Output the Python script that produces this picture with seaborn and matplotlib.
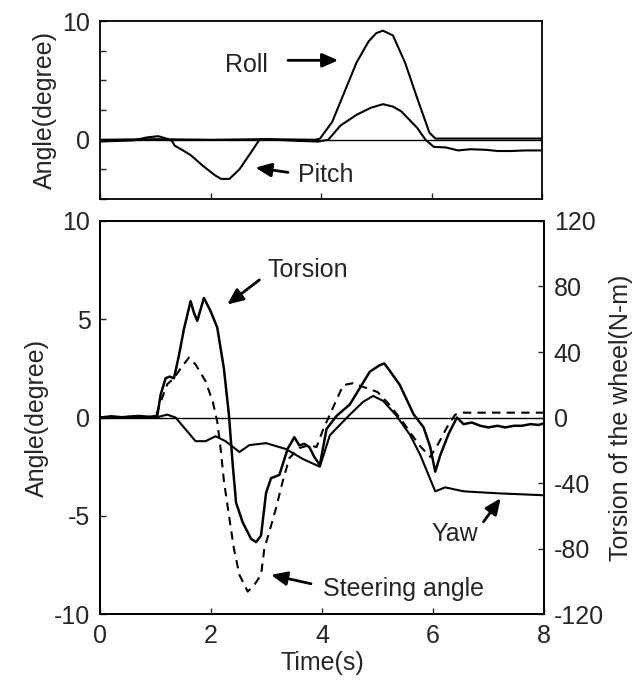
import numpy as np
import pandas as pd
import matplotlib
matplotlib.use("Agg")
import matplotlib.pyplot as plt
import seaborn as sns

# -----------------------------------------------------------------------------
# Data
# -----------------------------------------------------------------------------
# Top panel: roll and pitch angle (degree)
pitch_t = [0.0, 0.3, 0.6, 0.85, 1.05, 1.2, 1.3, 1.35, 1.5, 1.64, 1.86, 2.08, 2.19,
           2.34, 2.52, 2.74, 2.89, 3.2, 3.6, 3.95, 4.13, 4.35, 4.64, 4.9, 5.12, 5.3,
           5.45, 5.74, 5.89, 6.04, 6.26, 6.48, 6.7, 6.99, 7.2, 7.43, 7.7, 8.0]
pitch_v = [-0.15, -0.1, -0.05, 0.2, 0.3, 0.1, -0.1, -0.5, -0.9, -1.3, -2.2, -3.0, -3.3,
           -3.3, -2.5, -1.0, 0.05, 0.0, -0.1, -0.15, 0.0, 1.2, 2.1, 2.7, 3.0, 2.8,
           2.4, 1.0, 0.0, -0.6, -0.65, -0.9, -0.8, -0.85, -0.95, -0.95, -0.9, -0.9]

roll_t = [0.0, 1.0, 2.0, 3.0, 3.9, 3.98, 4.2, 4.42, 4.64, 4.86, 5.0, 5.12, 5.3,
          5.52, 5.74, 5.96, 6.07, 7.0, 8.0]
roll_v = [0.0, 0.05, 0.0, 0.05, 0.0, 0.1, 1.5, 4.0, 6.5, 8.3, 9.0, 9.2, 8.8,
          6.5, 3.5, 0.6, 0.1, 0.1, 0.1]

# Bottom panel: yaw and steering angle (degree), torsion of the wheel (N-m)
yaw_t = [0.0, 0.5, 1.0, 1.21, 1.36, 1.54, 1.72, 1.90, 2.08, 2.26, 2.51, 2.69, 2.99,
         3.35, 3.65, 3.96, 4.14, 4.5, 4.74, 4.92, 5.1, 5.34, 5.59, 5.77, 6.04, 6.22,
         6.55, 7.16, 8.0]
yaw_v = [0.0, 0.0, 0.0, 0.15, 0.0, -0.6, -1.2, -1.2, -0.95, -1.2, -1.75, -1.4, -1.3,
         -1.6, -2.1, -2.5, -0.9, 0.15, 0.8, 1.1, 0.85, 0.1, -0.9, -1.9, -3.75, -3.55,
         -3.75, -3.85, -3.95]

steer_t = [0.0, 0.5, 1.0, 1.09, 1.21, 1.33, 1.45, 1.6, 1.72, 1.9, 2.03, 2.11, 2.17,
           2.23, 2.32, 2.41, 2.51, 2.66, 2.78, 2.9, 2.96, 3.05, 3.17, 3.29, 3.41, 3.59,
           3.77, 3.9, 4.02, 4.14, 4.38, 4.56, 4.8, 5.0, 5.2, 5.45, 5.75, 5.95, 6.1,
           6.25, 6.4, 6.55, 8.0]
steer_v = [0.0, 0.0, 0.05, 0.8, 1.7, 2.0, 2.5, 3.05, 2.7, 1.85, 0.8, -0.2, -1.55,
           -3.2, -4.95, -6.65, -8.0, -8.85, -8.5, -8.0, -6.65, -5.8, -4.6, -3.25, -2.06, -1.55,
           -1.4, -1.5, -0.6, 0.15, 1.65, 1.75, 1.5, 1.3, 0.7, -0.2, -1.4, -2.0, -1.3,
           -0.5, 0.15, 0.25, 0.25]

torsion_t = [0.0, 0.2, 0.4, 0.51, 0.7, 0.9, 1.03, 1.09, 1.18, 1.25, 1.33, 1.42, 1.51,
             1.63, 1.69, 1.75, 1.87, 1.99, 2.11, 2.23, 2.32, 2.39, 2.45, 2.57, 2.72,
             2.81, 2.9, 2.99, 3.08, 3.23, 3.38, 3.5, 3.59, 3.68, 3.77, 3.86, 3.96,
             4.08, 4.26, 4.5, 4.68, 4.86, 5.04, 5.12, 5.19, 5.4, 5.65, 5.83, 5.95,
             6.04, 6.13, 6.28, 6.43, 6.55, 6.7, 6.85, 7.0, 7.16, 7.3, 7.46, 7.6, 7.76,
             7.9, 8.0]
torsion_v = [0.0, 0.8, 0.2, 0.6, 1.0, 0.4, 1.2, 14, 24, 25, 24, 38, 54,
             71, 64, 59, 73, 65, 55, 30, 2, -29, -52, -64, -74,
             -76, -72, -46, -37, -35, -19, -12, -17, -16, -18, -24, -29,
             -7, 1, 8, 18, 28, 32, 33, 30, 20, 2, -6, -18,
             -33, -23, -10, 0, -4, -3, -5, -6, -5, -6, -5, -5, -4,
             -4.5, -3.5]

top = pd.DataFrame({"t": pitch_t, "Pitch": pitch_v})
roll = pd.DataFrame({"t": roll_t, "Roll": roll_v})
yaw = pd.DataFrame({"t": yaw_t, "Yaw": yaw_v})
steer = pd.DataFrame({"t": steer_t, "Steering": steer_v})
torsion = pd.DataFrame({"t": torsion_t, "Torsion": torsion_v})

# -----------------------------------------------------------------------------
# Figure
# -----------------------------------------------------------------------------
sns.set_theme(style="ticks")
plt.rcParams["font.family"] = ["Liberation Sans", "DejaVu Sans"]
plt.rcParams["axes.unicode_minus"] = False
FS = 18

fig = plt.figure(figsize=(6.34, 6.84), dpi=100)
ax1 = fig.add_axes([0.158, 0.709, 0.697, 0.260])
ax2 = fig.add_axes([0.158, 0.102, 0.700, 0.575])
ax3 = ax2.twinx()

lw = 1.5
arrow = dict(arrowstyle="-|>,head_length=0.8,head_width=0.35", color="black",
             lw=2.0, shrinkA=0, shrinkB=0)

# ---- top panel ----
ax1.axhline(0, color="black", lw=1.0)
sns.lineplot(data=top, x="t", y="Pitch", ax=ax1, color="black", lw=lw)
sns.lineplot(data=roll, x="t", y="Roll", ax=ax1, color="black", lw=lw)
ax1.set_xlim(0, 8)
ax1.set_ylim(-5, 10)
ax1.set_yticks([-5, -2.5, 0, 2.5, 5, 7.5, 10])
ax1.set_yticklabels(["", "", "0", "", "", "", "10"])
ax1.set_xticks([0, 2, 4, 6, 8])
ax1.set_xticklabels([])
ax1.set_xlabel("")
ax1.set_ylabel("Angle(degree)", fontsize=FS)
ax1.text(2.26, 6.3, "Roll", fontsize=FS, va="center")
ax1.annotate("", xy=(4.31, 6.7), xytext=(3.4, 6.7), arrowprops=arrow)
ax1.text(3.58, -3.0, "Pitch", fontsize=FS, va="center")
ax1.annotate("", xy=(2.81, -2.35), xytext=(3.4, -2.75), arrowprops=arrow)

# ---- bottom panel ----
ax2.axhline(0, color="black", lw=1.0)
sns.lineplot(data=yaw, x="t", y="Yaw", ax=ax2, color="black", lw=lw)
sns.lineplot(data=steer, x="t", y="Steering", ax=ax2, color="black", lw=lw,
             linestyle=(0, (4, 3)))
sns.lineplot(data=torsion, x="t", y="Torsion", ax=ax3, color="black", lw=1.8)
ax2.set_xlim(0, 8)
ax2.set_ylim(-10, 10)
ax2.set_yticks([-10, -5, 0, 5, 10])
ax2.set_xticks([0, 2, 4, 6, 8])
ax3.set_ylim(-120, 120)
ax3.set_yticks([-120, -80, -40, 0, 40, 80, 120])
ax2.set_xlabel("Time(s)", fontsize=FS, labelpad=2)
ax2.set_ylabel("Angle(degree)", fontsize=FS)
ax3.set_ylabel("Torsion of the wheel(N-m)", fontsize=FS, labelpad=4)

ax2.text(3.02, 7.5, "Torsion", fontsize=FS, va="center")
ax2.annotate("", xy=(2.29, 5.75), xytext=(2.87, 7.0), arrowprops=arrow)
ax2.text(4.02, -8.7, "Steering angle", fontsize=FS, va="center")
ax2.annotate("", xy=(3.08, -8.0), xytext=(3.80, -8.45), arrowprops=arrow)
ax2.text(5.98, -5.9, "Yaw", fontsize=FS, va="center")
ax2.annotate("", xy=(7.22, -4.1), xytext=(6.91, -5.3), arrowprops=arrow)

for a in (ax1, ax2, ax3):
    a.tick_params(direction="in", labelsize=FS, length=4, width=1.0, pad=7)
    for s in a.spines.values():
        s.set_linewidth(1.3)
        s.set_color("black")

fig.savefig("out.png", dpi=100)
